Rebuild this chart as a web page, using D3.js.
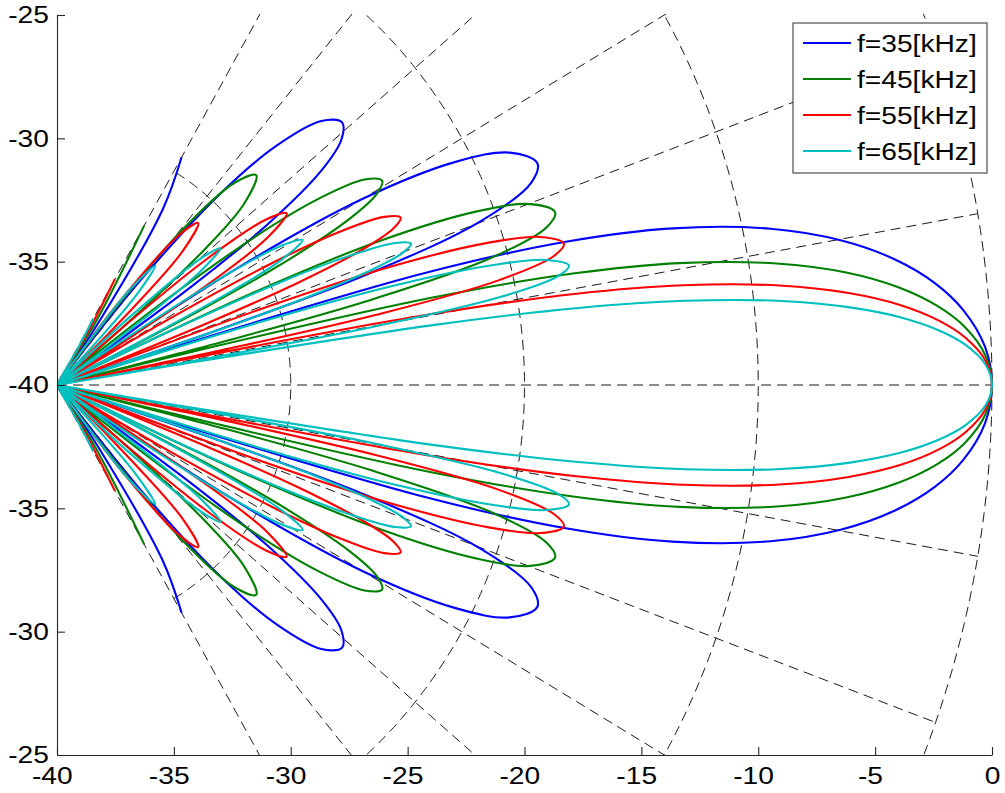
<!DOCTYPE html>
<html>
<head>
<meta charset="utf-8">
<script src="https://cdn.jsdelivr.net/npm/d3@7"></script>
<style>
  html, body { margin: 0; padding: 0; background: #fff; }
  svg { display: block; font-family: "Liberation Sans", Arial, Helvetica, sans-serif; }
</style>
</head>
<body>
<svg id="chart" width="1005" height="793"></svg>
<script>
// Directivity of the transducer at four frequencies.
// Each series holds the half pattern [angle in degrees, level in dB] for 0..60 deg;
// the beam is symmetric about the axis, so the other half is its mirror image.
const frequencies = ["f=35[kHz]", "f=45[kHz]", "f=55[kHz]", "f=65[kHz]"];
const seriesColors = ["#0000ff", "#008000", "#ff0000", "#00bfbf"];

const pattern35 = [[0,0],[2.24,-0.27],[4.48,-1.11],[6.28,-2.22],[8.08,-3.79],[9.90,-5.93],[11.72,-8.82],[13.56,-12.91],[14.94,-17.47],[16.10,-23.66],[17.04,-35.0],[17.42,-50],[17.97,-32.6],[18.68,-26.04],[20.11,-20.71],[22.02,-18.11],[23.66,-17.57],[25.94,-18.46],[27.95,-20.70],[30.00,-24.92],[31.56,-30.94],[32.62,-39.9],[33.23,-50],[33.96,-39.1],[34.77,-32.97],[35.87,-28.86],[37.54,-25.74],[39.26,-24.29],[41.12,-23.81],[43.43,-24.43],[45.95,-26.51],[47.92,-29.43],[49.96,-34.54],[51.38,-41.2],[52.64,-50],[55.03,-36.76],[57.57,-31.57],[60,-29.34]];

const pattern45 = [[0,0],[1.74,-0.27],[3.49,-1.11],[4.88,-2.22],[6.28,-3.79],[7.69,-5.93],[9.09,-8.82],[10.51,-12.91],[11.57,-17.47],[12.46,-23.66],[13.18,-35.0],[13.47,-50],[13.89,-32.6],[14.43,-26.04],[15.51,-20.71],[16.97,-18.11],[18.19,-17.57],[19.90,-18.46],[21.39,-20.70],[22.90,-24.92],[24.04,-30.94],[24.80,-39.9],[25.24,-50],[25.76,-39.1],[26.35,-32.97],[27.13,-28.86],[28.31,-25.74],[29.50,-24.29],[30.78,-23.81],[32.34,-24.43],[34.01,-26.51],[35.28,-29.43],[36.57,-34.54],[37.44,-41.2],[38.20,-50],[39.61,-36.76],[41.05,-31.57],[42.52,-29.16],[44.94,-27.96],[47.17,-28.82],[49.64,-31.89],[51.73,-37.29],[54.09,-50],[57.00,-36.99],[60,-32.54]];

const pattern55 = [[0,0],[1.43,-0.27],[2.85,-1.11],[3.99,-2.22],[5.14,-3.79],[6.28,-5.93],[7.43,-8.82],[8.58,-12.91],[9.45,-17.47],[10.17,-23.66],[10.75,-35.0],[10.99,-50],[11.33,-32.6],[11.77,-26.04],[12.64,-20.71],[13.82,-18.11],[14.80,-17.57],[16.18,-18.46],[17.37,-20.70],[18.57,-24.92],[19.47,-30.94],[20.08,-39.9],[20.43,-50],[20.84,-39.1],[21.30,-32.97],[21.91,-28.86],[22.83,-25.74],[23.77,-24.29],[24.76,-23.81],[25.96,-24.43],[27.24,-26.51],[28.21,-29.43],[29.18,-34.54],[29.84,-41.2],[30.41,-50],[31.45,-36.76],[32.51,-31.57],[33.58,-29.16],[35.32,-27.96],[36.88,-28.82],[38.59,-31.89],[39.98,-37.29],[41.52,-50],[43.34,-36.99],[45.22,-32.41],[47.40,-31.08],[49.46,-32.09],[51.72,-35.79],[52.75,-38.92],[55.03,-50],[58.29,-37.55],[60,-35.05]];

const pattern65 = [[0,0],[1.20,-0.27],[2.41,-1.11],[3.37,-2.22],[4.34,-3.79],[5.30,-5.93],[6.27,-8.82],[7.24,-12.91],[7.97,-17.47],[8.58,-23.66],[9.07,-35.0],[9.26,-50],[9.55,-32.6],[9.92,-26.04],[10.65,-20.71],[11.64,-18.11],[12.46,-17.57],[13.61,-18.46],[14.60,-20.70],[15.60,-24.92],[16.35,-30.94],[16.85,-39.9],[17.14,-50],[17.48,-39.1],[17.86,-32.97],[18.37,-28.86],[19.13,-25.74],[19.90,-24.29],[20.71,-23.81],[21.70,-24.43],[22.74,-26.51],[23.53,-29.43],[24.32,-34.54],[24.85,-41.2],[25.31,-50],[26.15,-36.76],[27.00,-31.57],[27.85,-29.16],[29.22,-27.96],[30.46,-28.82],[31.78,-31.89],[32.86,-37.29],[34.04,-50],[35.43,-36.99],[36.83,-32.41],[38.44,-31.08],[39.93,-32.09],[41.53,-35.79],[42.24,-38.92],[43.79,-50],[45.93,-37.55],[47.03,-35.01],[48.99,-33.60],[51.08,-34.97],[52.92,-38.91],[55.51,-50],[59.00,-38.24],[60,-36.89]];

// Axis ticks
const xTickValues = [-40, -35, -30, -25, -20, -15, -10, -5, 0];
const yTickValues = [-15, -10, -5, 0, 5, 10, 15];
const yTickLabels = ["-25", "-30", "-35", "-40", "-35", "-30", "-25"];

// Polar grid: level rings (dB above the floor) and spokes (degrees)
const gridRadii = [10, 20, 30, 40];
const gridAngles = [-60, -50, -40, -30, -20, -10, 0, 10, 20, 30, 40, 50, 60];
const dBFloor = -40;

const plot = { left: 57, right: 992, top: 15, bottom: 755 };
const fontSize = 24.5;
const textStretch = "scale(1.15,1)";

const svg = d3.select("#chart");
const x = d3.scaleLinear().domain([-40, 0]).range([plot.left, plot.right]);
const y = d3.scaleLinear().domain([-15, 15]).range([plot.bottom, plot.top]);

// angle/level -> screen position; the radius is the level above the floor
function toXY(deg, db) {
  const r = Math.max(0, db - dBFloor);
  const t = deg * Math.PI / 180;
  return [x(dBFloor + r * Math.cos(t)), y(r * Math.sin(t))];
}

svg.append("defs").append("clipPath").attr("id", "plotClip")
  .append("rect")
  .attr("x", plot.left).attr("y", plot.top - 1)
  .attr("width", plot.right - plot.left + 2).attr("height", plot.bottom - plot.top + 2);

// grid
const grid = svg.append("g")
  .attr("clip-path", "url(#plotClip)")
  .attr("fill", "none")
  .attr("stroke", "#1a1a1a")
  .attr("stroke-width", 1)
  .attr("stroke-dasharray", "10,6");

const plain = d3.line();
gridRadii.forEach(rad => {
  const pts = d3.range(-60, 60.001, 0.5).map(a => toXY(a, dBFloor + rad));
  grid.append("path").attr("d", plain(pts));
});
gridAngles.forEach(a => {
  grid.append("path").attr("d", plain([toXY(a, dBFloor), toXY(a, dBFloor + gridRadii[gridRadii.length - 1])]));
});

// pattern curves
const series = [pattern35, pattern45, pattern55, pattern65];
const mirror = half => half.slice(1).map(([a, v]) => [-a, v]).reverse().concat(half);
const smooth = d3.line().curve(d3.curveCatmullRom.alpha(0.5));

const curves = svg.append("g").attr("clip-path", "url(#plotClip)").attr("fill", "none");
series.forEach((half, i) => {
  curves.append("path")
    .attr("d", smooth(mirror(half).map(([a, v]) => toXY(a, v))))
    .attr("stroke", seriesColors[i])
    .attr("stroke-width", 2.1)
    .attr("stroke-linejoin", "round");
});

// axes
const axisColor = "#262626";
function styleAxis(g) {
  g.attr("font-size", fontSize).attr("font-family", null);
  g.select(".domain").attr("stroke", axisColor).attr("stroke-width", 1.1);
  g.selectAll(".tick line").attr("stroke", axisColor).attr("stroke-width", 1.1);
  g.selectAll(".tick text").attr("fill", "#000").attr("transform", textStretch);
}

const gy = svg.append("g")
  .attr("transform", `translate(${plot.left},0)`)
  .call(d3.axisLeft(y)
    .tickValues(yTickValues)
    .tickFormat(d => yTickLabels[yTickValues.indexOf(d)])
    .tickSizeInner(-8).tickSizeOuter(0).tickPadding(7));
styleAxis(gy);

const gx = svg.append("g")
  .attr("transform", `translate(0,${plot.bottom})`)
  .call(d3.axisBottom(x)
    .tickValues(xTickValues)
    .tickFormat(d3.format("d"))
    .tickSizeInner(-8).tickSizeOuter(0).tickPadding(12));
styleAxis(gx);
gx.selectAll(".tick text").attr("dx", d => d < 0 ? -4.5 : 0);
gx.selectAll(".tick text").text(d => String(d));

// legend
const legend = svg.append("g").attr("transform", "translate(793,23)");
legend.append("rect")
  .attr("width", 194).attr("height", 150)
  .attr("fill", "#fff").attr("stroke", "#3c3c3c").attr("stroke-width", 1.1);
frequencies.forEach((label, i) => {
  const yy = 20 + 36 * i;
  legend.append("line")
    .attr("x1", 10).attr("x2", 58).attr("y1", yy).attr("y2", yy)
    .attr("stroke", seriesColors[i]).attr("stroke-width", 2.2);
  legend.append("text")
    .attr("transform", `translate(64,${yy}) ${textStretch}`)
    .attr("dy", "0.35em")
    .attr("font-size", fontSize)
    .attr("fill", "#000")
    .text(label);
});
</script>
</body>
</html>
